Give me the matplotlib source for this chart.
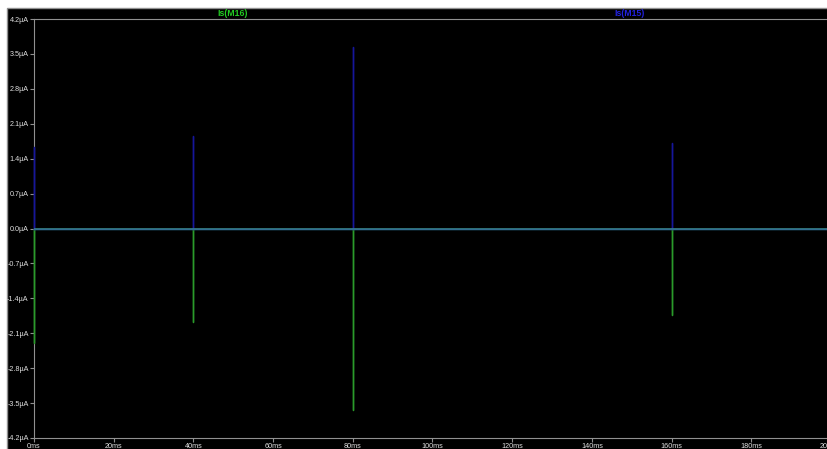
import numpy as np
import matplotlib.pyplot as plt
from matplotlib.patches import Rectangle
from matplotlib.ticker import FuncFormatter

# spike times (ms) and peak currents (uA)
spike_t = [0, 40, 80, 160]
id_peaks = [1.63, 1.85, 3.64, 1.72]     # blue trace
is_peaks = [-2.3, -1.87, -3.64, -1.73]  # green trace
t_end = 200

y_ticks = np.round(np.arange(-4.2, 4.21, 0.7), 1)
x_ticks = np.arange(0, 201, 20)


def trace(times, peaks):
    xs, ys = [0], [0]
    for t, p in zip(times, peaks):
        xs += [t, t, t]
        ys += [0, p, 0]
    xs.append(t_end)
    ys.append(0)
    return xs, ys


plt.rcParams['font.family'] = ['Liberation Sans', 'DejaVu Sans']

fig = plt.figure(figsize=(8.28, 4.49), dpi=100, facecolor='white')
# black panel like the LTspice window
fig.patches.append(Rectangle((7 / 828, -0.01), 1.0, (449 - 8) / 449 + 0.01,
                             transform=fig.transFigure, facecolor='black',
                             edgecolor='#909090', lw=1, zorder=-5))

ax = fig.add_axes([34 / 828, 11 / 449, (831 - 34) / 828, (438 - 19) / 449])
ax.set_facecolor('black')

gx, gy = trace(spike_t, is_peaks)
bx, by = trace(spike_t, id_peaks)
ax.plot(gx, gy, color='#2a9a2a', lw=1, zorder=3, clip_on=False)
ax.plot(bx, by, color='#16169a', lw=1, zorder=3, clip_on=False)
ax.axhline(0, color='#3a8890', lw=1.1, zorder=4)

ax.set_xlim(0, t_end)
ax.set_ylim(-4.2, 4.2)
ax.set_xticks(x_ticks)
ax.set_yticks(y_ticks)
ax.xaxis.set_major_formatter(FuncFormatter(lambda v, p: f"{v:.0f}ms"))
ax.yaxis.set_major_formatter(FuncFormatter(lambda v, p: f"{v:.1f}µA"))

for s in ax.spines.values():
    s.set_color('#909090')
ax.spines['right'].set_visible(False)
ax.tick_params(colors='#909090', labelcolor='#e0e0e0', labelsize=5.2,
               length=3, width=0.8, pad=0.8)

fig.text(233 / 828, 1 - 13 / 449, "Is(M16)", color='#22cc22', fontsize=6.3,
         fontweight='bold', ha='center', va='center')
fig.text(630 / 828, 1 - 13 / 449, "Is(M15)", color='#2222dd', fontsize=6.3,
         fontweight='bold', ha='center', va='center')

fig.savefig("out.png", dpi=100, facecolor=fig.get_facecolor())
